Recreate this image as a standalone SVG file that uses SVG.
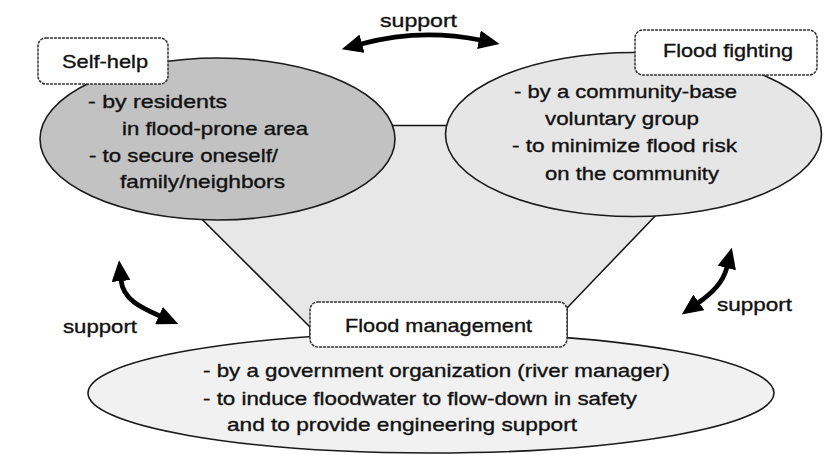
<svg xmlns="http://www.w3.org/2000/svg" width="824" height="455" viewBox="0 0 824 455">
  <defs>
    <marker id="head" viewBox="0 0 20 18" markerWidth="21" markerHeight="19" refX="1" refY="9" orient="auto-start-reverse" markerUnits="userSpaceOnUse">
      <path d="M0,0 L20,9 L0,18 Z" fill="#000"/>
    </marker>
    <style>
      .bg { fill: #ffffff; }
      .tri { fill: #e7e7e7; stroke: #111; stroke-width: 1.5; stroke-linejoin: round; }
      .ell { stroke: #1a1a1a; stroke-width: 1.6; }
      .self { fill: #c2c2c2; }
      .fight { fill: #e6e6e6; }
      .manage { fill: #f1f1f1; }
      .box { fill: #ffffff; stroke: #333; stroke-width: 1.5; stroke-dasharray: 3 1; }
      .arrow { fill: none; stroke: #000; stroke-width: 4.8; stroke-linecap: round; marker-start: url(#head); marker-end: url(#head); }
      text { font-family: "Liberation Sans", Arial, sans-serif; font-size: 18.5px; fill: #111; stroke: #111; stroke-width: 0.35; }
    </style>
  </defs>

  <rect class="bg" x="0" y="0" width="824" height="455"/>

  <!-- shared field linking the three actors -->
  <polygon id="link-area" class="tri" points="108,125.5 742,125.5 567,308 567,340 310,340 310,327"/>

  <g id="flood-management">
    <ellipse class="ell manage" cx="431" cy="393" rx="343" ry="60"/>
    <rect class="box" x="310" y="302" width="257" height="45" rx="8"/>
    <text x="345" y="332" textLength="187" lengthAdjust="spacingAndGlyphs">Flood management</text>
    <text x="203" y="377" textLength="467" lengthAdjust="spacingAndGlyphs">- by a government organization (river manager)</text>
    <text x="203" y="405" textLength="434" lengthAdjust="spacingAndGlyphs">- to induce floodwater to flow-down in safety</text>
    <text x="227" y="431" textLength="350" lengthAdjust="spacingAndGlyphs">and to provide engineering support</text>
  </g>

  <g id="self-help">
    <ellipse class="ell self" cx="217.5" cy="139" rx="177.5" ry="81"/>
    <rect class="box" x="38" y="38" width="130" height="46" rx="8"/>
    <text x="62" y="68" textLength="86" lengthAdjust="spacingAndGlyphs">Self-help</text>
    <text x="88" y="108" textLength="139" lengthAdjust="spacingAndGlyphs">- by residents</text>
    <text x="122" y="135" textLength="186" lengthAdjust="spacingAndGlyphs">in flood-prone area</text>
    <text x="89" y="161.5" textLength="189" lengthAdjust="spacingAndGlyphs">- to secure oneself/</text>
    <text x="120" y="188" textLength="165" lengthAdjust="spacingAndGlyphs">family/neighbors</text>
  </g>

  <g id="flood-fighting">
    <ellipse class="ell fight" cx="633.5" cy="134.5" rx="188" ry="82"/>
    <rect class="box" x="635" y="30" width="182" height="45" rx="8"/>
    <text x="663" y="57" textLength="130" lengthAdjust="spacingAndGlyphs">Flood fighting</text>
    <text x="514" y="98" textLength="223" lengthAdjust="spacingAndGlyphs">- by a community-base</text>
    <text x="545" y="125" textLength="154" lengthAdjust="spacingAndGlyphs">voluntary group</text>
    <text x="512" y="152" textLength="225" lengthAdjust="spacingAndGlyphs">- to minimize flood risk</text>
    <text x="545" y="180" textLength="174" lengthAdjust="spacingAndGlyphs">on the community</text>
  </g>

  <!-- mutual support arrows -->
  <g id="connectors">
    <path class="arrow" d="M361,44 Q420,28 480,40"/>
    <path class="arrow" d="M121,280 C123,300 142,308 160,316"/>
    <path class="arrow" d="M727,267 C723,283 712,293 698,303"/>
    <text x="380" y="27" textLength="77" lengthAdjust="spacingAndGlyphs">support</text>
    <text x="63" y="333" textLength="74" lengthAdjust="spacingAndGlyphs">support</text>
    <text x="717" y="311" textLength="75" lengthAdjust="spacingAndGlyphs">support</text>
  </g>
</svg>
